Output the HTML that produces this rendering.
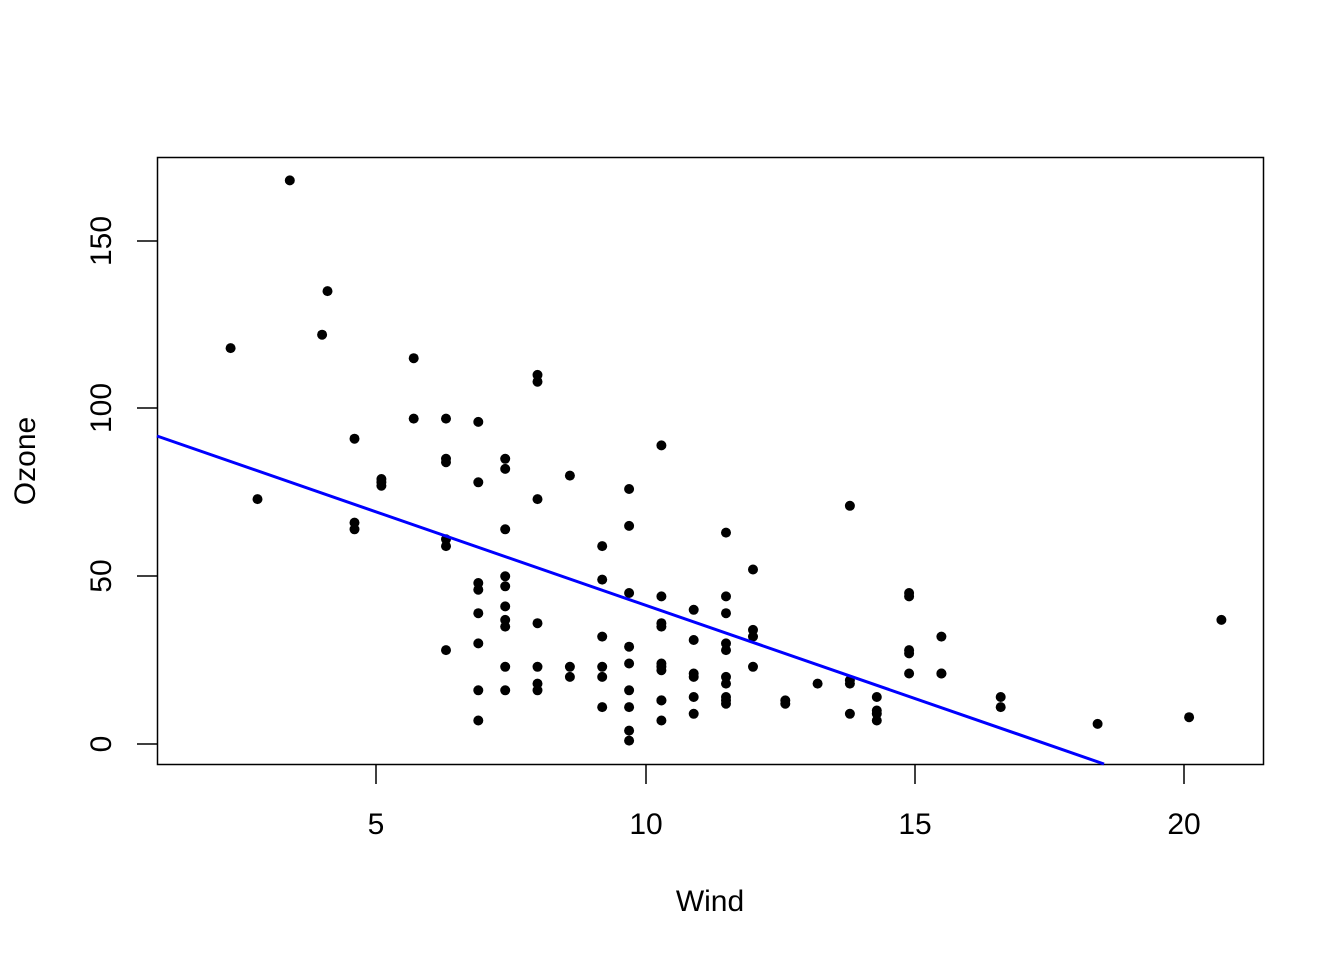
<!DOCTYPE html>
<html><head><meta charset="utf-8"><style>
html,body{margin:0;padding:0;background:#fff;}
svg text{font-family:"Liberation Sans",Arial,sans-serif;font-size:30px;fill:#000;}
</style></head><body>
<svg id="s" width="1344" height="960" xmlns="http://www.w3.org/2000/svg">
<rect x="157.5" y="157.5" width="1106" height="607" fill="none" stroke="#000" stroke-width="1.5"/>
<g stroke="#000" stroke-width="1.5">
<line x1="376" y1="764" x2="376" y2="784"/>
<line x1="646" y1="764" x2="646" y2="784"/>
<line x1="915" y1="764" x2="915" y2="784"/>
<line x1="1184" y1="764" x2="1184" y2="784"/>
<line x1="137" y1="744" x2="157" y2="744"/>
<line x1="137" y1="576" x2="157" y2="576"/>
<line x1="137" y1="408" x2="157" y2="408"/>
<line x1="137" y1="241" x2="157" y2="241"/>
</g>
<g text-anchor="middle">
<text x="376" y="834">5</text>
<text x="646" y="834">10</text>
<text x="915" y="834">15</text>
<text x="1184" y="834">20</text>
<text x="710" y="911">Wind</text>
<text transform="translate(111,744) rotate(-90)">0</text>
<text transform="translate(111,576) rotate(-90)">50</text>
<text transform="translate(111,408) rotate(-90)">100</text>
<text transform="translate(111,241) rotate(-90)">150</text>
<text transform="translate(35,461) rotate(-90)">Ozone</text>
</g>
<g id="pts"></g>
<line x1="157" y1="436" x2="1104" y2="764" stroke="#0000ff" stroke-width="3"/>
</svg>
<script>
var d=[[41,7.4],[36,8],[12,12.6],[18,11.5],[28,14.9],[23,8.6],[19,13.8],[8,20.1],[7,6.9],[16,9.7],[11,9.2],[14,10.9],[18,13.2],[14,11.5],[34,12],[6,18.4],[30,11.5],[11,9.7],[1,9.7],[11,16.6],[4,9.7],[32,12],[23,12],[45,14.9],[115,5.7],[37,7.4],[29,9.7],[71,13.8],[39,11.5],[23,8],[21,14.9],[37,20.7],[20,9.2],[12,11.5],[13,10.3],[135,4.1],[49,9.2],[32,9.2],[64,4.6],[40,10.9],[77,5.1],[97,6.3],[97,5.7],[85,7.4],[10,14.3],[27,14.9],[7,14.3],[48,6.9],[35,10.3],[61,6.3],[79,5.1],[63,11.5],[16,6.9],[80,8.6],[108,8],[20,8.6],[52,12],[82,7.4],[50,7.4],[64,7.4],[59,9.2],[39,6.9],[9,13.8],[16,7.4],[78,6.9],[35,7.4],[66,4.6],[122,4],[89,10.3],[110,8],[44,11.5],[28,11.5],[65,9.7],[22,10.3],[59,6.3],[23,7.4],[31,10.9],[44,10.3],[21,15.5],[9,14.3],[45,9.7],[168,3.4],[73,8],[76,9.7],[118,2.3],[84,6.3],[85,6.3],[96,6.9],[78,5.1],[73,2.8],[91,4.6],[47,7.4],[32,15.5],[20,10.9],[23,10.3],[21,10.9],[24,9.7],[44,14.9],[21,15.5],[28,6.3],[9,10.9],[13,11.5],[46,6.9],[18,13.8],[13,10.3],[24,10.3],[16,8],[13,12.6],[23,9.2],[36,10.3],[7,10.3],[14,16.6],[30,6.9],[14,14.3],[18,8],[20,11.5]];
var g=document.getElementById('pts'),h='';
d.forEach(function(p){var x=376+(p[1]-5)*53.85,y=744-p[0]*3.355;h+='<circle cx="'+x.toFixed(1)+'" cy="'+y.toFixed(1)+'" r="5" fill="#000"/>';});
g.innerHTML=h;
</script>
</body></html>
